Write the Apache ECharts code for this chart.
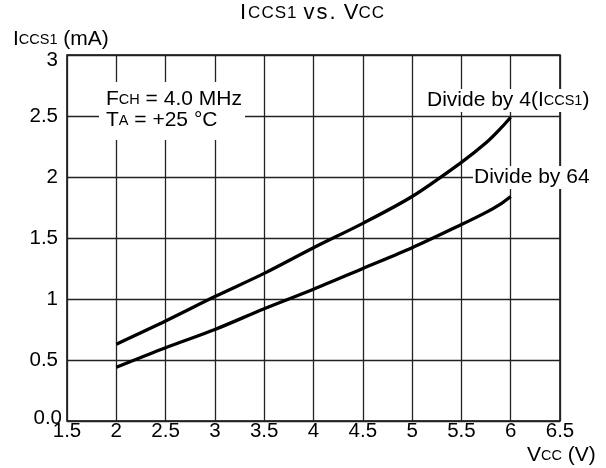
<!DOCTYPE html>
<html>
<head>
<meta charset="utf-8">
<script src="https://cdn.jsdelivr.net/npm/echarts@6/dist/echarts.min.js"></script>
<style>
    body{margin:0;background:#fff;}
    #chart{width:606px;height:468px;}
</style>
</head>
<body>
<div id="chart"></div>
<script>
    // Vcc (V) sample points along the curves
    var vcc = [2, 2.5, 3, 3.5, 4, 4.5, 5, 5.5, 5.75, 5.9, 6];
    // Iccs1 (mA)
    var div4 = [0.63, 0.82, 1.02, 1.21, 1.42, 1.62, 1.84, 2.12, 2.28, 2.40, 2.49];
    var div64 = [0.44, 0.60, 0.75, 0.92, 1.08, 1.25, 1.42, 1.61, 1.71, 1.78, 1.84];
    var xTicks = ['1.5', '2', '2.5', '3', '3.5', '4', '4.5', '5', '5.5', '6', '6.5'];
    var yTicks = ['0.0', '0.5', '1', '1.5', '2', '2.5', '3'];

    var FONT = '"Liberation Sans", Arial, sans-serif';

    // big caps + small caps text styles (fresh objects each time)
    function rich(lh){
        var b = {fontSize: 21, fontFamily: FONT, fill: '#000', fontWeight: 'normal'};
        var s = {fontSize: 14.5, fontFamily: FONT, fill: '#000', fontWeight: 'normal'};
        if (lh) { b.lineHeight = lh; s.lineHeight = lh; }
        return {b: b, s: s};
    }

    // title is drawn a bit wider in the original
    function titleRich(){
        return {
            a: {fontSize: 22, fontFamily: FONT, fill: '#000'},
            g: {fontSize: 22, fontFamily: FONT, fill: '#000', padding: [0, 2, 0, 0]},
            v: {fontSize: 22, fontFamily: FONT, fill: '#000', padding: [0, 2, 0, 0]},
            c: {fontSize: 17, fontFamily: FONT, fill: '#000', padding: [0, 1, 0, 0]}
        };
    }

    function pairs(ys){
        return vcc.map(function(x, i){ return [x, ys[i]]; });
    }

    var chart = echarts.init(document.getElementById('chart'));
    chart.setOption({
        animation: false,
        grid: {
            left: 67, right: 46, top: 55, bottom: 47,
            show: true,
            borderColor: '#000',
            borderWidth: 1.5
        },
        xAxis: {
            type: 'value',
            min: 1.5, max: 6.5, interval: 0.5,
            axisLine: {show: false},
            axisTick: {show: false},
            splitLine: {lineStyle: {color: '#222', width: 1.3}},
            axisLabel: {
                margin: 0,
                fontFamily: FONT, fontSize: 20.5, color: '#000',
                showMinLabel: true, showMaxLabel: true,
                formatter: function(v){ return xTicks[Math.round((v - 1.5) / 0.5)]; }
            }
        },
        yAxis: {
            type: 'value',
            min: 0, max: 3, interval: 0.5,
            axisLine: {show: false},
            axisTick: {show: false},
            splitLine: {lineStyle: {color: '#222', width: 1.3}},
            axisLabel: {
                margin: 9,
                fontFamily: FONT, fontSize: 20.5, color: '#000',
                formatter: function(v){
                    var t = yTicks[Math.round(v / 0.5)];
                    if (v === 0) return '{z|' + t + '}';
                    if (v === 3) return '{t|' + t + '}';
                    return t;
                },
                rich: {
                    z: {fontFamily: FONT, fontSize: 20.5, color: '#000', padding: [0, -4, 6, 0]},
                    t: {fontFamily: FONT, fontSize: 20.5, color: '#000', padding: [10, 0, 0, 0]}
                }
            }
        },
        graphic: [
            {
                // title: Iccs1 vs. Vcc
                type: 'text', left: 240, top: 2,
                style: {
                    text: '{g|I}{c|C}{c|C}{c|S}{c|1}{a| }{v|v}{v|s}{v|.}{a| }{a|V}{c|C}{c|C}',
                    font: '22px ' + FONT,
                    rich: titleRich()
                }
            },
            {
                type: 'text', left: 13, top: 29,
                style: {
                    text: '{b|I}{s|CCS1}{b| (mA)}',
                    font: '21px ' + FONT,
                    rich: rich()
                }
            },
            {
                type: 'text', left: 527, top: 445,
                style: {
                    text: '{b|V}{s|CC}{b| (V)}',
                    font: '21px ' + FONT,
                    rich: rich()
                }
            },
            {
                type: 'rect', z: 1,
                shape: {x: 99, y: 82, width: 146, height: 58},
                style: {fill: '#fff'}
            },
            {
                type: 'text', left: 106, top: 89, z: 2,
                style: {
                    text: '{b|F}{s|CH}{b| = 4.0 MHz}\n{b|T}{s|A}{b| = +25 °C}',
                    font: '21px ' + FONT,
                    rich: rich(21)
                }
            },
            {
                type: 'text', left: 426, top: 89, z: 1,
                style: {
                    text: '{b|Divide by 4(I}{s|CCS1}{b|)}',
                    font: '21px ' + FONT,
                    rich: rich(),
                    backgroundColor: '#fff',
                    padding: [1, 2, 1, 1]
                }
            },
            {
                type: 'text', left: 473, top: 166, z: 1,
                style: {
                    text: 'Divide by 64',
                    font: '21px ' + FONT,
                    fill: '#000',
                    backgroundColor: '#fff',
                    padding: [1, 2, 1, 1]
                }
            }
        ],
        series: [
            {
                name: 'Divide by 4', type: 'line', data: pairs(div4),
                smooth: 0.3, showSymbol: false, z: 3,
                lineStyle: {color: '#000', width: 3.3}
            },
            {
                name: 'Divide by 64', type: 'line', data: pairs(div64),
                smooth: 0.3, showSymbol: false, z: 3,
                lineStyle: {color: '#000', width: 3.3}
            }
        ]
    });
</script>
</body>
</html>
